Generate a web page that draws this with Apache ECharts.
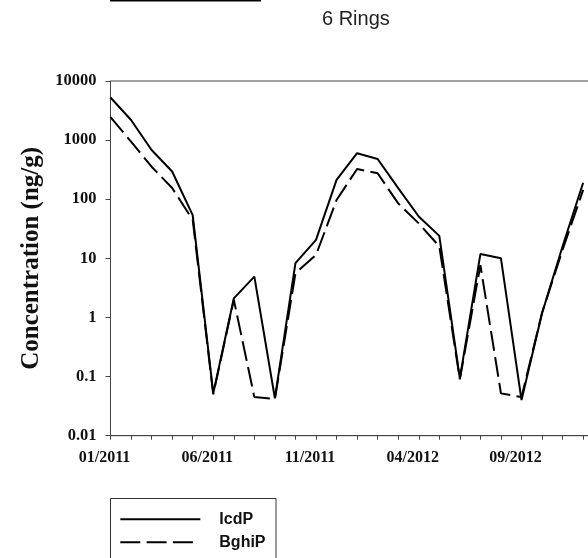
<!DOCTYPE html>
<html>
<head>
<meta charset="utf-8">
<script src="https://cdn.jsdelivr.net/npm/echarts@6/dist/echarts.min.js"></script>
<style>
html,body{margin:0;padding:0;background:#fff;}
#chart{width:588px;height:558px;}
</style>
</head>
<body>
<div id="chart"></div>
<script>
// Month categories (axis runs to 01/2013)
const months = ['01/2011','02/2011','03/2011','04/2011','05/2011','06/2011','07/2011','08/2011','09/2011','10/2011','11/2011','12/2011',
                '01/2012','02/2012','03/2012','04/2012','05/2012','06/2012','07/2012','08/2012','09/2012','10/2012','11/2012','12/2012','01/2013'];
const seriesNames = ['IcdP', 'BghiP'];
const icdp  = [5250, 2190, 680, 294, 54, 0.052, 2.1, 4.9, 0.043, 8.3, 20.5, 212, 600, 480, 154, 51, 24, 0.093, 11.8, 10, 0.040, 1.18, 16, 190];
const bghip = [2450, 940, 355, 155, 45, 0.05, 2.0, 0.045, 0.042, 5.6, 11.4, 97, 325, 275, 85, 39, 16, 0.09, 7.7, 0.052, 0.045, 1.2, 14, 144];
const titleText = '6 Rings';
const yTitle = 'Concentration (ng/g)';

const chart = echarts.init(document.getElementById('chart'), null, {renderer: 'canvas'});
const serif = '"Liberation Serif", "Times New Roman", serif';
const sans = '"Liberation Sans", Arial, sans-serif';

chart.setOption({
  animation: false,
  backgroundColor: '#fff',
  title: {
    text: titleText,
    left: 322, top: 9, padding: 0,
    textStyle: {fontFamily: sans, fontSize: 20, fontWeight: 'normal', color: '#222'}
  },
  legend: {
    orient: 'vertical',
    left: 119.3, top: 511.3,
    padding: 0,
    itemWidth: 80, itemHeight: 14, itemGap: 7,
    data: [
      {name: seriesNames[0]},
      {name: seriesNames[1], lineStyle: {type: [20, 6.3, 20, 6.3, 20, 20]}}
    ],
    itemStyle: {opacity: 0, color: 'transparent', borderColor: 'transparent', borderWidth: 0},
    textStyle: {fontFamily: sans, fontSize: 16, fontWeight: 'bold', color: '#111', padding: [0, 0, 0, 14]}
  },
  grid: {
    left: 110.5, top: 81, width: 493.2, height: 354.7,
    outerBoundsMode: 'none', containLabel: false,
    show: true, borderColor: '#444', borderWidth: 1, backgroundColor: 'transparent'
  },
  xAxis: {
    type: 'category',
    data: months,
    boundaryGap: false,
    axisLine: {lineStyle: {color: '#444', width: 1}},
    axisTick: {show: true, interval: 0, length: 4, inside: false, lineStyle: {color: '#444'}},
    axisLabel: {interval: 4, margin: 14, padding: [0, 12, 0, 0],
      fontFamily: serif, fontSize: 16, fontWeight: 'bold', color: '#111'},
    splitLine: {show: false}
  },
  yAxis: {
    type: 'log', logBase: 10, min: 0.01, max: 10000,
    name: yTitle, nameLocation: 'middle', nameGap: 65,
    nameTextStyle: {fontFamily: serif, fontSize: 25, fontWeight: 'bold', color: '#111'},
    axisLine: {show: true, lineStyle: {color: '#444', width: 1}},
    axisTick: {show: true, length: 5, lineStyle: {color: '#444'}},
    axisLabel: {margin: 14, fontFamily: serif, fontSize: 16.5, fontWeight: 'bold', color: '#111',
      formatter: v => String(+Number(v).toPrecision(6))},
    splitLine: {show: false},
    minorTick: {show: false}
  },
  series: [
    {name: seriesNames[0], type: 'line', data: icdp, symbol: 'none', showSymbol: false,
      lineStyle: {color: '#000', width: 2, type: 'solid'}, itemStyle: {color: '#000'}},
    {name: seriesNames[1], type: 'line', data: bghip, symbol: 'none', showSymbol: false,
      lineStyle: {color: '#000', width: 2, type: [20, 6.3]}, itemStyle: {color: '#000'}}
  ],
  graphic: [
    {type: 'line', shape: {x1: 110, y1: 0.5, x2: 261, y2: 0.5}, style: {stroke: '#000', lineWidth: 2}},
    {type: 'rect', shape: {x: 110.5, y: 498.5, width: 165.5, height: 120}, style: {fill: 'none', stroke: '#333', lineWidth: 1}, z: -1}
  ]
});
</script>
</body>
</html>
